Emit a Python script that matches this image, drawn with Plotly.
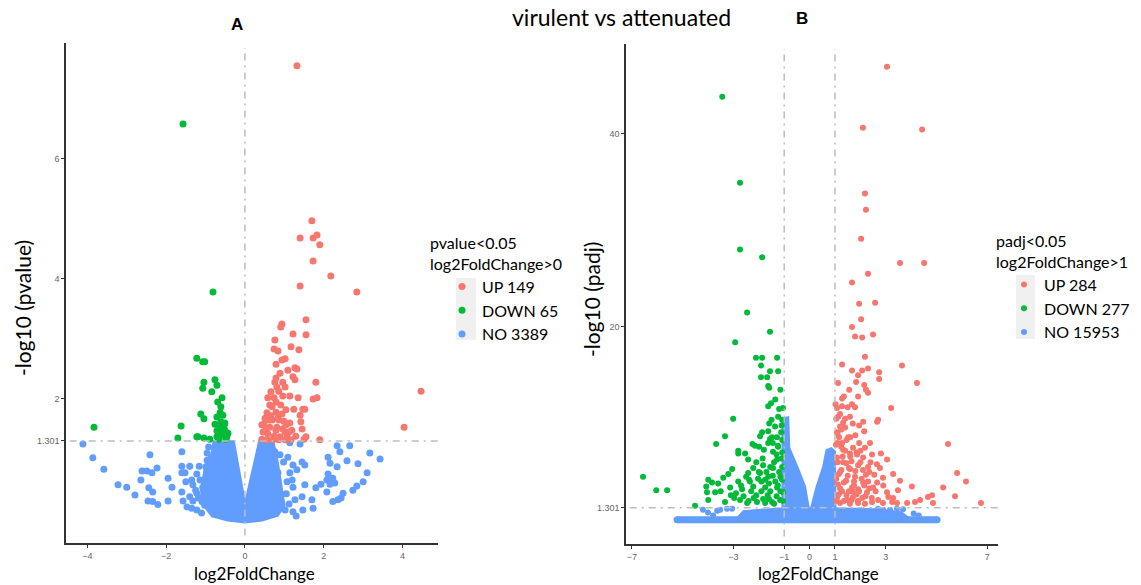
import plotly.graph_objects as go

W, H = 1141, 585
RED, GREEN, BLUE = "#F8766D", "#00BA38", "#619CFF"
FONT = "Lato"

# ---------------- Panel A data (log2FoldChange, -log10 pvalue) ----------------
a_up_x = [1.32, 1.70, 1.40, 1.73, 1.83, 1.90, 1.73, 2.18, 1.40, 2.84, 4.47, 4.04,
          0.94, 0.91, 1.55, 1.22, 1.55, 0.76, 1.17, 1.37, 0.74, 0.84, 1.02, 0.94, 0.79, 1.09,
          1.27, 1.32, 0.89, 0.79, 1.22, 1.27, 1.80, 0.76, 0.96, 0.81, 1.02, 0.66, 0.86, 0.96,
          1.14, 0.74, 1.83, 1.73, 0.69, 1.24, 1.47, 0.56, 0.79, 0.94, 1.40, 0.51, 0.69, 0.84,
          0.99, 1.14, 1.42, 0.48, 0.63, 0.81, 0.96, 1.12, 1.45, 0.46, 0.58, 0.74, 0.89, 1.07,
          1.55, 0.43, 1.90, 0.56, 0.71, 0.86, 1.50, 0.53, 0.66, 0.63, 0.79, 0.91, 1.04, 1.04,
          0.79, 1.19, 1.29, 0.61, 0.86, 1.02, 1.17, 1.02, 0.43, 0.58, 1.35, 1.52]
a_up_y = [7.55, 4.97, 4.68, 4.68, 4.73, 4.57, 4.30, 4.05, 3.88, 3.78, 2.13, 1.53,
          3.25, 3.20, 3.32, 3.08, 3.07, 2.98, 2.87, 2.82, 2.83, 2.80, 2.67, 2.65, 2.58, 2.48,
          2.52, 2.50, 2.43, 2.35, 2.37, 2.32, 2.28, 2.28, 2.28, 2.20, 2.20, 2.12, 2.13, 2.05,
          2.05, 2.02, 2.02, 2.00, 1.87, 1.83, 1.83, 1.77, 1.78, 1.75, 1.73, 1.68, 1.65, 1.68,
          1.63, 1.60, 1.62, 1.58, 1.53, 1.53, 1.50, 1.45, 1.50, 1.45, 1.42, 1.38, 1.37, 1.37,
          1.37, 1.33, 1.32, 1.32, 1.32, 1.32, 1.33, 1.48, 1.72, 1.90, 1.95, 1.90, 1.82, 1.57,
          1.48, 1.48, 1.38, 1.65, 1.65, 1.45, 1.32, 1.32, 1.57, 2.02, 2.02, 1.83]

a_down_x = [-1.57, -0.81, -1.22, -1.07, -1.02, -1.04, -0.76, -1.07, -0.71, -0.84, -0.58, -0.69,
            -0.61, -1.12, -0.63, -1.04, -0.71, -0.56, -3.83, -1.62, -0.76, -0.51, -0.63, -0.51,
            -1.70, -1.22, -1.04, -0.89, -0.71, -0.56, -0.46, -0.66, -0.56, -0.71, -0.43, -1.19,
            -0.61, -0.53, -0.48, -0.66]
a_down_y = [6.58, 3.78, 2.68, 2.62, 2.62, 2.28, 2.32, 2.18, 2.23, 2.12, 2.02, 1.95,
            1.87, 1.75, 1.77, 1.67, 1.70, 1.73, 1.53, 1.55, 1.58, 1.60, 1.52, 1.48,
            1.35, 1.37, 1.35, 1.33, 1.37, 1.40, 1.37, 1.43, 1.45, 1.47, 1.43, 1.37,
            1.62, 1.55, 1.33, 1.33]

a_no_x = [-4.11, -3.86, -3.58, -2.41, -2.61, -2.49, -2.36, -2.23, -2.64, -3.22, -3.00, -2.79,
          -2.44, -2.34, -2.46, -2.34, -2.21, -1.95, -1.85, -1.95, -1.60, -1.60, -1.40, -1.60,
          -1.52, -1.22, -1.50, -1.35, -1.60, -1.32, -1.22, -1.57, -1.32, -1.40, -1.47, -1.35,
          -1.22, -1.07, -1.14, -0.96, -0.96, -0.99, -1.07, -1.02, -1.09,
          1.14, 1.40, 2.34, 2.66, 2.41, 3.17, 3.43, 2.11, 2.59, 2.16, 2.87, 2.34, 2.11, 3.10,
          2.23, 2.08, 2.16, 2.28, 2.84, 3.00, 1.93, 1.80, 2.08, 2.49, 2.74, 2.44, 2.36, 2.23,
          1.52, 1.70, 1.73, 1.47, 1.45, 1.27, 1.22, 1.14, 1.09, 1.45, 1.52, 1.22, 1.32, 1.07,
          1.02, 1.22, 0.84, 0.89, 0.76,
          -1.18, -1.25, -1.10, -1.16, -0.92, 1.05, 1.12, 0.98, 1.20, 1.30]
a_no_y = [1.25, 1.02, 0.83, 1.07, 0.80, 0.80, 0.77, 0.85, 0.65, 0.57, 0.53, 0.40,
          0.52, 0.45, 0.30, 0.29, 0.24, 0.68, 0.53, 0.30, 1.12, 0.88, 0.88, 0.77,
          0.77, 0.75, 0.62, 0.65, 0.45, 0.57, 0.43, 0.30, 0.30, 0.37, 0.20, 0.18,
          0.15, 0.53, 0.65, 0.98, 1.10, 0.87, 0.37, 0.23, 0.29,
          1.27, 1.25, 1.22, 1.22, 1.12, 1.10, 1.00, 1.03, 0.97, 0.93, 0.92, 0.87, 0.75, 0.77,
          0.68, 0.65, 0.58, 0.60, 0.55, 0.62, 0.58, 0.52, 0.45, 0.43, 0.48, 0.35, 0.32, 0.29,
          0.57, 0.32, 0.18, 0.15, 0.37, 0.32, 0.53, 0.77, 1.03, 0.95, 0.90, 0.90, 0.82, 0.62,
          0.15, 0.12, 0.77, 1.07, 1.12,
          0.35, 0.48, 0.10, 0.88, 1.20, 0.42, 0.25, 0.95, 0.65, 0.05]

# outline of the dense, overlapping NO cloud (panel A)
a_cloud_x = [-0.82, -0.30, 0.0, 0.38, 0.70, 0.80, 0.92, 0.98, 0.82, 0.43, 0.0, -0.43, -0.82,
             -1.02, -1.09, -1.00, -0.88]
a_cloud_y = [1.28, 1.28, 0.18, 1.28, 1.28, 0.98, 0.48, 0.23, 0.07, -0.01, -0.04, -0.01, 0.06,
             0.23, 0.48, 0.82, 1.07]

a_counts = [149, 65, 3389]

# ---------------- Panel B data (log2FoldChange, -log10 padj) ----------------
b_up_x = [3.05, 2.10, 4.43, 2.18, 2.22, 2.03, 3.56, 4.51, 2.30, 1.67, 1.95, 2.58, 2.03, 1.67,
          1.79, 2.07, 2.50, 2.18, 1.28, 3.64, 1.67, 2.07, 2.30, 2.74, 1.91, 2.74, 1.83, 1.12,
          4.23, 2.15, 2.22, 1.56, 2.30, 1.91, 1.28, 1.67, 1.79, 1.28, 3.21, 1.08, 1.59, 1.12,
          2.70, 2.66, 2.11, 1.32, 1.20, 1.40, 2.15, 1.08, 1.16, 1.52, 1.28, 1.95, 2.38, 5.45,
          1.04, 1.71, 2.18, 1.32, 1.59, 2.46, 2.81, 1.87, 2.11, 1.08, 3.05, 1.32, 1.91, 2.30,
          2.77, 1.59, 5.81, 1.20, 2.22, 3.29, 1.79, 2.89, 6.16, 1.44, 2.11, 3.56, 2.66, 1.12,
          4.03, 5.26, 1.67, 2.50, 1.91, 3.48, 1.28, 3.05, 2.26, 5.73, 4.82, 4.66, 4.35, 4.15,
          3.84, 3.29, 3.25, 3.44, 4.86, 6.75, 1.48, 1.08, 1.71, 2.70, 2.07, 2.46, 1.20, 1.59,
          2.18, 1.91, 2.89, 1.10, 1.25, 1.40, 1.50, 1.65, 1.75, 1.35, 1.05, 1.45, 1.85, 1.15,
          1.60, 1.25, 1.70, 1.95, 2.00, 1.05, 1.35, 1.45, 1.80, 2.05, 1.20, 1.55, 2.35, 2.55,
          2.40, 1.02, 1.10,
          1.05, 1.15, 1.30, 1.45, 1.55, 1.65, 1.75, 1.85, 1.95, 2.10, 2.20, 2.30, 2.45, 2.60,
          1.10, 1.20, 1.40, 1.50, 1.80, 2.00, 1.35, 1.70, 1.90, 2.15, 1.25, 1.60, 2.35, 2.65,
          2.90, 3.10]
b_up_y = [46.9, 40.6, 40.4, 33.8, 32.1, 29.1, 26.6, 26.6, 25.5, 24.6, 22.4, 22.5, 20.8, 20.0,
          19.0, 18.9, 19.2, 16.9, 16.1, 16.0, 15.5, 15.5, 15.7, 15.3, 15.0, 14.6, 14.3, 14.2,
          14.2, 14.0, 13.5, 13.5, 13.2, 12.8, 12.6, 12.0, 11.7, 11.8, 11.6, 11.6, 10.7, 10.7,
          10.4, 10.2, 10.2, 10.1, 9.7, 9.6, 9.2, 9.1, 8.6, 8.6, 8.0, 8.0, 8.0, 7.9,
          7.8, 7.5, 7.5, 7.3, 6.9, 6.8, 6.9, 6.8, 6.5, 6.5, 6.3, 6.0, 5.7, 5.5,
          5.4, 5.3, 4.9, 5.0, 4.7, 4.8, 4.5, 4.4, 4.0, 4.1, 3.9, 4.1, 3.9, 3.7,
          3.5, 3.4, 3.4, 3.4, 3.2, 3.1, 3.0, 2.9, 2.9, 2.5, 2.6, 2.4, 2.1, 1.9,
          1.8, 2.3, 1.9, 1.8, 1.8, 1.8, 2.1, 2.3, 2.4, 2.1, 2.3, 1.9, 1.8, 1.7,
          1.7, 1.8, 1.8, 6.0, 5.2, 7.2, 4.6, 6.1, 3.6, 3.9, 4.3, 2.6, 2.7, 2.7,
          8.6, 9.4, 10.0, 9.8, 6.0, 10.5, 12.8, 5.9, 5.1, 4.3, 3.3, 3.0, 3.3, 4.7,
          6.0, 12.0, 8.0,
          2.0, 4.8, 6.6, 8.3, 5.4, 2.1, 4.0, 7.0, 3.0, 5.2, 2.5, 4.0, 2.3, 3.0,
          9.0, 11.0, 10.5, 11.7, 8.8, 7.2, 2.0, 3.0, 2.0, 3.6, 7.6, 6.6, 5.0, 5.8,
          3.6, 2.4]

b_down_x = [-3.44, -2.74, -2.74, -1.87, -2.46, -1.56, -2.93, -2.11, -1.87, -1.28, -1.91, -1.56,
            -1.24, -1.91, -1.67, -1.63, -1.59, -1.63, -1.52, -1.24, -3.01, -1.59, -1.08, -1.36,
            -3.33, -1.87, -1.56, -1.63, -3.68, -2.15, -1.99, -1.24, -2.81, -2.81, -2.54, -1.44,
            -2.42, -1.83, -1.28, -3.05, -2.22, -1.44, -6.56, -2.42, -1.95, -1.63, -3.40, -3.99,
            -3.84, -2.81, -2.38, -2.03, -6.04, -5.61, -4.07, -3.13, -2.66, -2.22, -1.75, -1.28,
            -4.04, -3.72, -3.33, -2.97, -2.74, -2.46, -2.07, -1.83, -1.48, -1.16, -3.99, -4.51,
            -1.04, -1.08, -1.08, -1.08, -1.08, -1.12, -1.28, -1.48, -1.63, -1.20, -1.35, -1.55,
            -1.70, -1.15, -1.40, -1.90, -2.30, -2.10, -1.30, -1.60, -1.10, -1.25, -1.45, -1.85,
            -2.50, -2.60, -1.05, -1.15,
            -1.05, -1.15, -1.30, -1.45, -1.55, -1.65, -1.75, -1.90, -2.00, -2.20, -2.35, -2.70,
            -2.90, -3.10, -1.10, -1.20, -1.35, -1.50, -1.80, -2.10, -1.40, -1.75, -2.40, -3.50,
            -3.60, -2.25, -1.95, -1.25, -1.60, -3.20]
b_down_y = [43.8, 34.9, 28.0, 27.2, 21.5, 19.5, 18.4, 16.8, 16.8, 16.8, 16.0, 15.4,
            15.4, 14.8, 14.8, 13.9, 13.7, 11.8, 12.1, 10.7, 10.5, 10.0, 10.4, 9.7,
            8.7, 9.1, 8.4, 8.0, 7.9, 7.7, 7.6, 7.6, 7.2, 6.9, 6.9, 7.1,
            6.3, 5.7, 6.3, 5.3, 5.4, 5.4, 4.5, 4.9, 4.9, 4.5, 4.4, 4.2,
            3.9, 4.0, 4.2, 4.3, 3.1, 3.1, 3.5, 3.4, 3.2, 3.5, 3.4, 3.4,
            2.9, 2.9, 1.9, 2.3, 2.1, 1.8, 1.9, 2.2, 1.9, 2.1, 2.1, 1.5,
            2.9, 4.2, 5.5, 7.0, 8.3, 9.1, 8.6, 8.6, 9.2, 5.0, 4.0, 3.0,
            5.0, 3.0, 6.0, 4.0, 3.0, 2.6, 2.5, 2.2, 6.4, 7.7, 4.6, 6.4,
            4.5, 2.5, 11.6, 13.5,
            2.0, 4.5, 6.8, 8.0, 5.5, 2.6, 4.2, 3.0, 5.0, 2.3, 4.0, 3.6,
            2.8, 2.6, 9.8, 11.5, 12.5, 10.4, 7.3, 6.0, 1.7, 1.8, 2.0, 3.0,
            3.8, 7.9, 8.7, 3.6, 3.8, 4.8]

b_no_x = [-4.2, -3.64, -3.52, -3.25, -3.05, -4.0, -3.8, 2.70, 2.89, 3.17, 3.44, 3.68, 4.1, 4.3]
b_no_y = [1.1, 1.0, 1.1, 1.2, 1.2, 0.8, 0.5, 1.2, 1.1, 1.1, 1.2, 1.15, 0.7, 0.5]

# outline of the dense NO cloud (panel B) and the padj~1 row
b_cloud_x = [-2.9, -2.6, -1.05, -1.05, -0.86, -0.82, -0.50, -0.20, 0.0, 0.30, 0.55, 0.68,
             0.85, 0.98, 1.0, 2.6, 3.6, 3.9, 3.0, -2.0]
b_cloud_y = [0.0, 0.9, 1.2, 10.5, 10.6, 7.5, 5.5, 3.5, 0.5, 3.5, 5.5, 7.2,
             7.4, 7.1, 1.2, 1.1, 0.8, 0.2, -0.1, -0.1]
b_row_x = [-5.22, 5.02]
b_row_y = [0.05, 0.05]

b_counts = [284, 277, 15953]

# ---------------- figure ----------------
def fx(p):
    return p / W


def fy(p):
    return 1 - p / H


fig = go.Figure()

# panel A
fig.add_trace(go.Scatter(x=a_cloud_x, y=a_cloud_y, mode="lines", fill="toself", fillcolor=BLUE,
                         line=dict(color=BLUE, width=4), showlegend=False, hoverinfo="skip",
                         xaxis="x", yaxis="y"))
fig.add_trace(go.Scatter(x=a_no_x, y=a_no_y, mode="markers", name=f"NO {a_counts[2]}",
                         marker=dict(color=BLUE, size=7), legendrank=3, legend="legend",
                         xaxis="x", yaxis="y"))
fig.add_trace(go.Scatter(x=a_up_x, y=a_up_y, mode="markers", name=f"UP {a_counts[0]}",
                         marker=dict(color=RED, size=7), legendrank=1, legend="legend",
                         xaxis="x", yaxis="y"))
fig.add_trace(go.Scatter(x=a_down_x, y=a_down_y, mode="markers", name=f"DOWN {a_counts[1]}",
                         marker=dict(color=GREEN, size=7), legendrank=2, legend="legend",
                         xaxis="x", yaxis="y"))

# panel B
fig.add_trace(go.Scatter(x=b_row_x, y=b_row_y, mode="lines+markers",
                         line=dict(color=BLUE, width=7), marker=dict(color=BLUE, size=7),
                         showlegend=False, hoverinfo="skip", xaxis="x2", yaxis="y2"))
fig.add_trace(go.Scatter(x=b_cloud_x, y=b_cloud_y, mode="lines", fill="toself", fillcolor=BLUE,
                         line=dict(color=BLUE, width=3), showlegend=False, hoverinfo="skip",
                         xaxis="x2", yaxis="y2"))
fig.add_trace(go.Scatter(x=b_no_x, y=b_no_y, mode="markers", name=f"NO {b_counts[2]}",
                         marker=dict(color=BLUE, size=6), legendrank=3, legend="legend2",
                         xaxis="x2", yaxis="y2"))
fig.add_trace(go.Scatter(x=b_up_x, y=b_up_y, mode="markers", name=f"UP {b_counts[0]}",
                         marker=dict(color=RED, size=6), legendrank=1, legend="legend2",
                         xaxis="x2", yaxis="y2"))
fig.add_trace(go.Scatter(x=b_down_x, y=b_down_y, mode="markers", name=f"DOWN {b_counts[1]}",
                         marker=dict(color=GREEN, size=6), legendrank=2, legend="legend2",
                         xaxis="x2", yaxis="y2"))

axis_common = dict(showline=True, linecolor="#333333", linewidth=1.5, ticks="outside",
                   ticklen=3, tickwidth=1, tickcolor="#333333", showgrid=False, zeroline=False,
                   tickfont=dict(family="Liberation Sans", size=9, color="#666666"))

dash = "7px,5px,2px,5px"
grey = "#BDBDBD"
shapes = [
    dict(type="line", xref="x", yref="y domain", x0=0, x1=0, y0=0.015, y1=0.99,
         line=dict(color=grey, width=1.5, dash=dash)),
    dict(type="line", xref="x domain", yref="y", x0=0.01, x1=1, y0=1.301, y1=1.301,
         line=dict(color=grey, width=1.5, dash=dash)),
    dict(type="line", xref="x2", yref="y2 domain", x0=-1, x1=-1, y0=0.015, y1=0.99,
         line=dict(color=grey, width=1.5, dash=dash)),
    dict(type="line", xref="x2", yref="y2 domain", x0=1, x1=1, y0=0.015, y1=0.99,
         line=dict(color=grey, width=1.5, dash=dash)),
    dict(type="line", xref="x2 domain", yref="y2", x0=0.01, x1=1, y0=1.301, y1=1.301,
         line=dict(color=grey, width=1.5, dash=dash)),
    # legend key backgrounds
    dict(type="rect", xref="paper", yref="paper", x0=fx(456), x1=fx(476), y0=fy(340), y1=fy(278),
         fillcolor="#F0F0F0", line=dict(width=0), layer="below"),
    dict(type="rect", xref="paper", yref="paper", x0=fx(1016), x1=fx(1035), y0=fy(339), y1=fy(275),
         fillcolor="#F0F0F0", line=dict(width=0), layer="below"),
]


def note(text, x, y, size, family=FONT, angle=0):
    return dict(text=text, x=fx(x), y=fy(y), xref="paper", yref="paper", showarrow=False,
                xanchor="center", yanchor="middle", textangle=angle,
                font=dict(family=family, size=size, color="black"))


annotations = [
    note("virulent vs attenuated", 621, 17, 23),
    note("<b>A</b>", 237, 25, 17, family="Liberation Sans"),
    note("<b>B</b>", 802, 18, 17, family="Liberation Sans"),
    note("-log10 (pvalue)", 22, 308, 21, angle=-90),
    note("-log10 (padj)", 591, 300, 21, angle=-90),
    note("log2FoldChange", 254, 573, 17),
    note("log2FoldChange", 818, 573, 17),
]

legend_common = dict(xanchor="left", yanchor="top", bgcolor="rgba(0,0,0,0)", borderwidth=0,
                     font=dict(family=FONT, size=16, color="black"), tracegroupgap=0,
                     itemclick=False, itemdoubleclick=False)

fig.update_layout(
    width=W, height=H, autosize=False,
    margin=dict(l=0, r=0, t=0, b=0),
    paper_bgcolor="white", plot_bgcolor="white",
    showlegend=True,
    xaxis=dict(domain=[fx(66), fx(438)], range=[-4.54, 4.9], anchor="y",
               tickvals=[-4, -2, 0, 2, 4], **axis_common),
    yaxis=dict(domain=[fy(543), fy(43)], range=[-0.4, 7.93], anchor="x",
               tickvals=[1.301, 2, 4, 6], ticktext=["1.301", "2", "4", "6"], **axis_common),
    xaxis2=dict(domain=[fx(626), fx(998)], range=[-7.23, 7.42], anchor="y2",
                tickvals=[-7, -3, -1, 0, 1, 3, 7], **axis_common),
    yaxis2=dict(domain=[fy(544), fy(44)], range=[-2.45, 49.25], anchor="x2",
                tickvals=[1.301, 20, 40], ticktext=["1.301", "20", "40"], **axis_common),
    legend=dict(x=fx(428), y=fy(228), indentation=14,
                title=dict(text="pvalue<0.05<br>log2FoldChange>0",
                           font=dict(family=FONT, size=16, color="black")),
                **legend_common),
    legend2=dict(x=fx(994), y=fy(226), indentation=10,
                 title=dict(text="padj<0.05<br>log2FoldChange>1",
                            font=dict(family=FONT, size=16, color="black")),
                 **legend_common),
    shapes=shapes,
    annotations=annotations,
)

fig.write_html("out.html")
